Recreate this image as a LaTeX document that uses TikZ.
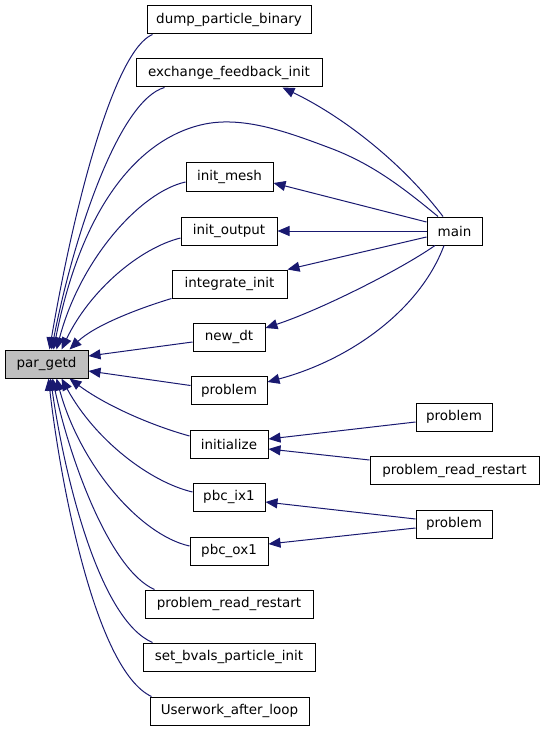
\documentclass[tikz,border=0pt]{standalone}
\usepackage{fontspec}
\setmainfont{DejaVu Sans}
\usetikzlibrary{arrows.meta,calc}
\definecolor{navy}{HTML}{191970}
\definecolor{grayfill}{HTML}{BFBFBF}
\begin{document}
\begin{tikzpicture}[x=0.75pt,y=-0.75pt,
  box/.style={draw=black,line width=0.75pt,fill=white,inner sep=0pt,minimum height=21pt,font=\fontsize{10.1pt}{12pt}\selectfont},
  edge/.style={draw=navy,line width=0.75pt,-{Triangle[length=9pt,width=7.5pt,fill=navy]}}]
\useasboundingbox (0,0) rectangle (544,731);
% nodes
\node[box,minimum width=123pt] (dump) at (229,20) {dump\_particle\_binary};
\node[box,minimum width=139.5pt] (exch) at (229,73) {exchange\_feedback\_init};
\node[box,minimum width=65.25pt] (imesh) at (229.5,177) {init\_mesh};
\node[box,minimum width=72pt] (iout) at (229,231) {init\_output};
\node[box,minimum width=86.25pt] (iint) at (229.5,284) {integrate\_init};
\node[box,minimum width=54pt] (newdt) at (229,337) {new\_dt};
\node[box,minimum width=57pt] (prob) at (229,390.5) {problem};
\node[box,minimum width=58.5pt] (init) at (229,444) {initialize};
\node[box,minimum width=54pt] (ix1) at (229,497) {pbc\_ix1};
\node[box,minimum width=58.5pt] (ox1) at (229,551) {pbc\_ox1};
\node[box,minimum width=126pt] (prr) at (229,604) {problem\_read\_restart};
\node[box,minimum width=129pt] (sbv) at (229,657) {set\_bvals\_particle\_init};
\node[box,minimum width=119.25pt] (uw) at (229.5,711) {Userwork\_after\_loop};
\node[box,minimum width=62.25pt,fill=grayfill] (par) at (46.5,364) {par\_getd};
\node[box,minimum width=41.25pt] (main) at (454.5,231) {main};
\node[box,minimum width=57pt] (probA) at (454,417) {problem};
\node[box,minimum width=126.75pt] (prrB) at (454.5,470.5) {problem\_read\_restart};
\node[box,minimum width=57pt] (probC) at (454,524) {problem};
% edges into par_getd
\draw[edge] ($(dump.south west)+(6,0)$) .. controls (115,50) and (75,200) .. ($(par.north west)+(45,0)$);
\draw[edge] ($(exch.south west)+(29,0)$) .. controls (120,100) and (75,230) .. ($(par.north west)+(47,0)$);
\draw[edge] ($(main.north)+(-16.5,0)$) .. controls (400,185) and (370,163) .. (330,148)
  .. controls (290,133) and (245,116) .. (205,124)
  .. controls (150,135) and (85,190) .. ($(par.north west)+(49,0)$);
\draw[edge] ($(imesh.west)+(0,5)$) .. controls (140,192) and (80,260) .. ($(par.north west)+(52,0)$);
\draw[edge] ($(iout.west)+(0,7)$) .. controls (140,248) and (90,290) .. ($(par.north west)+(57,0)$);
\draw[edge] (iint.south west) .. controls (140,308) and (95,325) .. ($(par.north west)+(65,0)$);
\draw[edge] ($(newdt.west)+(0,5)$) -- ($(par.east)+(0,-8)$);
\draw[edge] ($(prob.west)+(0,-5)$) -- ($(par.east)+(0,7)$);
\draw[edge] ($(init.west)+(0,-8)$) .. controls (150,425) and (105,405) .. ($(par.south west)+(65,0)$);
\draw[edge] ($(ix1.west)+(0,-5)$) .. controls (150,482) and (95,440) .. ($(par.south west)+(57,0)$);
\draw[edge] ($(ox1.west)+(0,-5)$) .. controls (140,535) and (80,465) .. ($(par.south west)+(52,0)$);
\draw[edge] ($(prr.north west)+(10,0)$) .. controls (110,570) and (70,460) .. ($(par.south west)+(48,0)$);
\draw[edge] ($(sbv.north west)+(10,0)$) .. controls (100,620) and (65,480) .. ($(par.south west)+(46,0)$);
\draw[edge] ($(uw.north west)+(2,0)$) .. controls (95,670) and (60,480) .. ($(par.south west)+(44,0)$);
% edges from main
\draw[edge] ($(main.north)+(-11.5,0)$) .. controls (400,160) and (340,115) .. ($(exch.south east)+(-40,0)$);
\draw[edge] ($(main.west)+(0,-9)$) -- ($(imesh.east)+(0,6)$);
\draw[edge] (main.west) -- (iout.east);
\draw[edge] ($(main.west)+(0,6)$) -- (iint.north east);
\draw[edge] ($(main.south)+(-19.5,0)$) .. controls (400,270) and (320,310) .. ($(newdt.east)+(0,-9)$);
\draw[edge] ($(main.south)+(-10.5,0)$) .. controls (420,310) and (350,360) .. ($(prob.east)+(0,-8.5)$);
% right column
\draw[edge] ($(probA.west)+(0,5)$) -- ($(init.east)+(0,-5)$);
\draw[edge] ($(prrB.west)+(0,-10.5)$) -- ($(init.east)+(0,5)$);
\draw[edge] ($(probC.west)+(0,-5)$) -- ($(ix1.east)+(0,5)$);
\draw[edge] ($(probC.west)+(0,4)$) -- ($(ox1.east)+(0,-7)$);
\end{tikzpicture}
\end{document}
